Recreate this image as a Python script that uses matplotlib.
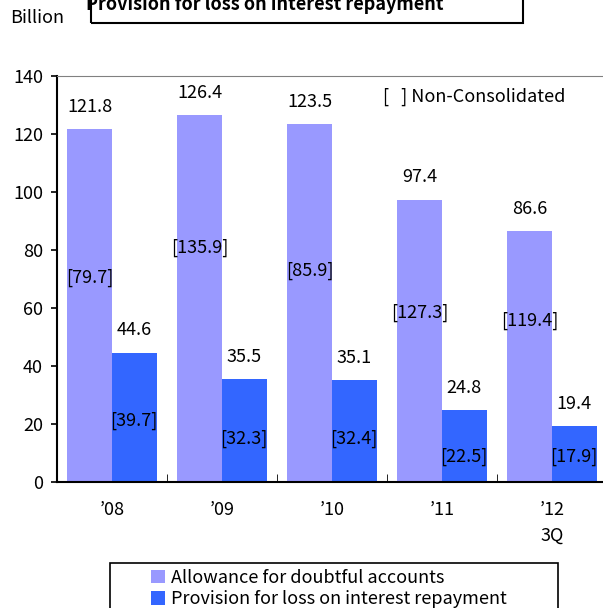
import numpy as np
import matplotlib.pyplot as plt
from matplotlib.patches import Rectangle

plt.rcParams['font.family'] = ['Noto Sans CJK JP', 'DejaVu Sans']

years = ['\u201908', '\u201909', '\u201910', '\u201911', '\u201912\n3Q']
allowance = [121.8, 126.4, 123.5, 97.4, 86.6]
provision = [44.6, 35.5, 35.1, 24.8, 19.4]
allowance_nc = [79.7, 135.9, 85.9, 127.3, 119.4]
provision_nc = [39.7, 32.3, 32.4, 22.5, 17.9]

# where the bracketed labels sit (y in data units)
allow_nc_y = [70.3, 80.7, 72.8, 58.3, 55.5]
prov_nc_y = [21.0, 14.8, 14.8, 8.6, 8.6]

c_light = '#9999FF'
c_dark = '#3366FF'

fig = plt.figure(figsize=(6.03, 6.08), dpi=100)
ax = fig.add_axes([57/603, 126/608, 550/603, 406/608])

x = np.arange(len(years))
w = 0.405
ax.bar(x - w/2, allowance, w, color=c_light, label='Allowance for doubtful accounts')
ax.bar(x + w/2, provision, w, color=c_dark, label='Provision for loss on interest repayment')

fs = 13
for i in range(len(years)):
    ax.annotate(f'{allowance[i]:.1f}', (x[i] - w/2, allowance[i]), xytext=(0, 16),
                textcoords='offset points', ha='center', va='center', fontsize=fs)
    ax.annotate(f'{provision[i]:.1f}', (x[i] + w/2, provision[i]), xytext=(0, 16),
                textcoords='offset points', ha='center', va='center', fontsize=fs)
    ax.text(x[i] - w/2, allow_nc_y[i], f'[{allowance_nc[i]:.1f}]', ha='center', va='center', fontsize=fs)
    ax.text(x[i] + w/2, prov_nc_y[i], f'[{provision_nc[i]:.1f}]', ha='center', va='center', fontsize=fs)

ax.set_xlim(-0.5, len(years) - 0.5)
ax.set_ylim(0, 140)
ax.set_yticks(range(0, 141, 20))
ax.set_xticks(x)
ax.set_xticklabels(years, fontsize=fs, linespacing=1.5)
ax.tick_params(axis='x', length=0, pad=14)
ax.set_xticks(np.arange(0.5, len(years) - 0.5), minor=True)
ax.tick_params(axis='x', which='minor', direction='in', length=6, color='black')
ax.tick_params(axis='y', labelsize=fs, length=4, width=1.2, pad=6)
ax.spines['left'].set_linewidth(1.5)
ax.spines['bottom'].set_linewidth(1.5)
ax.spines['top'].set_color('#808080')
ax.spines['right'].set_visible(False)

ax.text(0.593, 0.948, '[   ] Non-Consolidated', transform=ax.transAxes, fontsize=fs, ha='left', va='center')

fig.text(10/603, 1 - 18/608, 'Billion', fontsize=fs, ha='left', va='center')
fig.text(265/603, 1 - 4/608, 'Provision for loss on interest repayment', fontsize=fs,
         fontweight='bold', ha='center', va='center')
fig.patches.append(Rectangle((91/603, 1 - 23/608), 432/603, 40/608, transform=fig.transFigure,
                             fill=False, edgecolor='black', linewidth=1.5))

fig.patches.append(Rectangle((110/603, 1 - 640/608), 448/603, 77/608, transform=fig.transFigure,
                             fill=False, edgecolor='black', linewidth=1.2))
fig.legend(loc='upper left', bbox_to_anchor=(140/603, 1 - 558/608), frameon=False,
           fontsize=fs, handlelength=0.8, handleheight=0.8, handletextpad=0.3,
           labelspacing=0.2, borderpad=0.1)

fig.savefig('out.png', dpi=100)
